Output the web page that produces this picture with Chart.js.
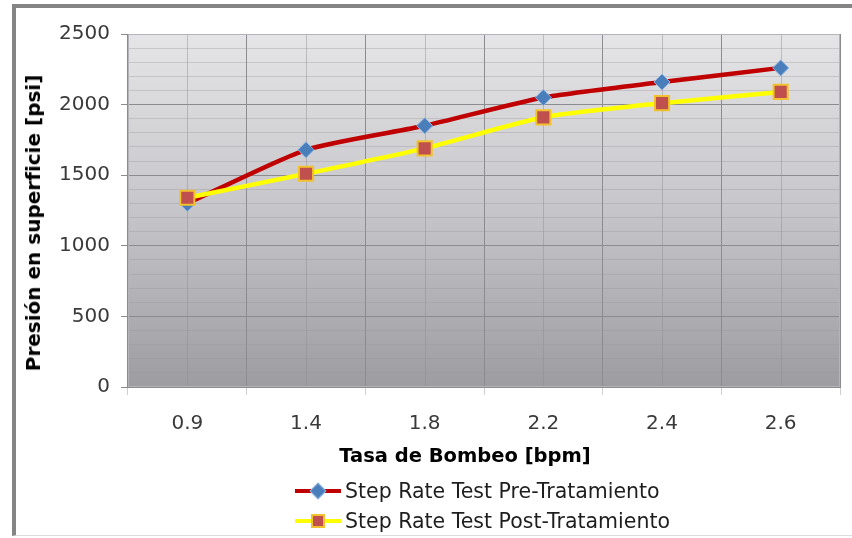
<!DOCTYPE html>
<html lang="es">
<head>
<meta charset="UTF-8">
<title>Step Rate Test</title>
<script src="https://cdn.jsdelivr.net/npm/chart.js@4"></script>
<style>
  body { margin: 0; background: #fff; }
  .wrap { position: relative; width: 852px; height: 538px; overflow: hidden; font-family: "DejaVu Sans", Arial, sans-serif; }
  .frame { position: absolute; left: 12px; top: 4px; right: -10px; bottom: 2px; border-left: 4px solid #858585; border-top: 4px solid #858585; border-bottom: 1px solid #dcdcdc; }
  canvas { position: absolute; left: 0; top: 0; }
  .titulo { position: absolute; font-weight: bold; color: #000; white-space: nowrap; line-height: 24px; }
  .tx { left: 265px; width: 400px; top: 444px; text-align: center; font-size: 19.5px; }
  .ty { left: 33px; top: 223px; font-size: 20px; transform: translate(-50%, -50%) rotate(-90deg); }
  .legend { position: absolute; left: 295px; top: 476px; }
  .item { display: flex; align-items: center; height: 30px; font-size: 20.5px; color: #1e1e1e; white-space: nowrap; }
  .key { position: relative; width: 46px; height: 20px; margin-right: 4px; }
  .key .ln { position: absolute; left: 0; right: 0; top: 8px; height: 4px; }
  .key .mk { position: absolute; box-sizing: border-box; }
  .pre .ln { background: #c00000; }
  .pre .mk { left: 17px; top: 4px; width: 12px; height: 12px; background: #4a7ebb; border: 1px solid #8db3e2; transform: rotate(45deg); }
  .post .ln { background: #ffff00; }
  .post .mk { left: 16px; top: 3px; width: 14px; height: 14px; background: #c0504d; border: 2px solid #f2c12e; }
</style>
</head>
<body>
<div class="wrap">
  <div class="frame"></div>
  <canvas id="chart" width="852" height="538"></canvas>
  <div class="titulo ty">Presión en superficie [psi]</div>
  <div class="titulo tx">Tasa de Bombeo [bpm]</div>
  <div class="legend">
    <div class="item pre"><span class="key"><span class="ln"></span><span class="mk"></span></span>Step Rate Test Pre-Tratamiento</div>
    <div class="item post"><span class="key"><span class="ln"></span><span class="mk"></span></span>Step Rate Test Post-Tratamiento</div>
  </div>
</div>

<script>
  // Datos
  const tasas = ['0.9', '1.4', '1.8', '2.2', '2.4', '2.6'];
  const preTratamiento = [1300, 1680, 1850, 2050, 2160, 2260];
  const postTratamiento = [1340, 1510, 1690, 1910, 2010, 2090];

  const gridMayor = '#8b8b90';
  const fuente = '"DejaVu Sans", Arial, sans-serif';

  // Fondo degradado del área de trazado y líneas finas en el centro de cada categoría
  const fondoPlot = {
    id: 'fondoPlot',
    beforeDraw(chart) {
      const { ctx, chartArea: a, scales } = chart;
      const g = ctx.createLinearGradient(0, a.top, 0, a.bottom);
      g.addColorStop(0, '#e5e5e7');
      g.addColorStop(0.5, '#c6c6ca');
      g.addColorStop(1, '#9c9ca1');
      ctx.save();
      ctx.fillStyle = g;
      ctx.fillRect(a.left, a.top, a.width, a.height);
      ctx.strokeStyle = 'rgba(140,140,145,0.45)';
      ctx.lineWidth = 1;
      tasas.forEach((t, i) => {
        const px = Math.round(scales.x.getPixelForValue(i)) + 0.5;
        ctx.beginPath();
        ctx.moveTo(px, a.top);
        ctx.lineTo(px, a.bottom);
        ctx.stroke();
      });
      ctx.restore();
    },
    afterDraw(chart) {
      const { ctx, chartArea: a } = chart;
      ctx.save();
      ctx.strokeStyle = '#b4b4b8';
      ctx.lineWidth = 1;
      ctx.strokeRect(a.left + 0.5, a.top + 0.5, a.width - 1, a.height - 1);
      ctx.restore();
    }
  };

  window.onload = () => {
    const ctx = document.getElementById('chart').getContext('2d');
    new Chart(ctx, {
      type: 'line',
      data: {
        labels: tasas,
        datasets: [
          {
            label: 'Step Rate Test Pre-Tratamiento',
            data: preTratamiento,
            borderColor: '#c00000',
            borderWidth: 4.5,
            pointStyle: 'rectRot',
            pointRadius: 8,
            pointBackgroundColor: '#4a7ebb',
            pointBorderColor: '#8db3e2',
            pointBorderWidth: 1,
            tension: 0.2,
            order: 1
          },
          {
            label: 'Step Rate Test Post-Tratamiento',
            data: postTratamiento,
            borderColor: '#ffff00',
            borderWidth: 4.5,
            pointStyle: 'rect',
            pointRadius: 10,
            pointBackgroundColor: '#c0504d',
            pointBorderColor: '#f2c12e',
            pointBorderWidth: 2,
            tension: 0.2,
            order: 0
          }
        ]
      },
      options: {
        responsive: false,
        animation: false,
        layout: { padding: { left: 16, top: 34, right: 0, bottom: 69 } },
        plugins: {
          legend: { display: false },
          tooltip: { enabled: false }
        },
        scales: {
          x: {
            offset: true,
            grid: { offset: true, color: gridMayor, tickLength: 8, tickColor: '#d0d0d0' },
            border: { color: gridMayor },
            ticks: { color: '#3a3a3a', font: { family: fuente, size: 20 }, padding: 17 },
            afterFit: s => { s.height = 82; }
          },
          y: {
            min: 0,
            max: 2500,
            ticks: {
              stepSize: 100,
              autoSkip: false,
              color: '#3a3a3a',
              font: { family: fuente, size: 20 },
              padding: 11,
              callback: v => (v % 500 === 0 ? v : '')
            },
            grid: {
              color: c => (c.tick && c.tick.value % 500 === 0 ? gridMayor : 'rgba(150,150,156,0.35)'),
              tickColor: c => (c.tick && c.tick.value % 500 === 0 ? gridMayor : 'transparent'),
              tickLength: 7
            },
            border: { color: gridMayor },
            afterFit: s => { s.width = 112; }
          }
        }
      },
      plugins: [fondoPlot]
    });
  };
</script>
</body>
</html>
